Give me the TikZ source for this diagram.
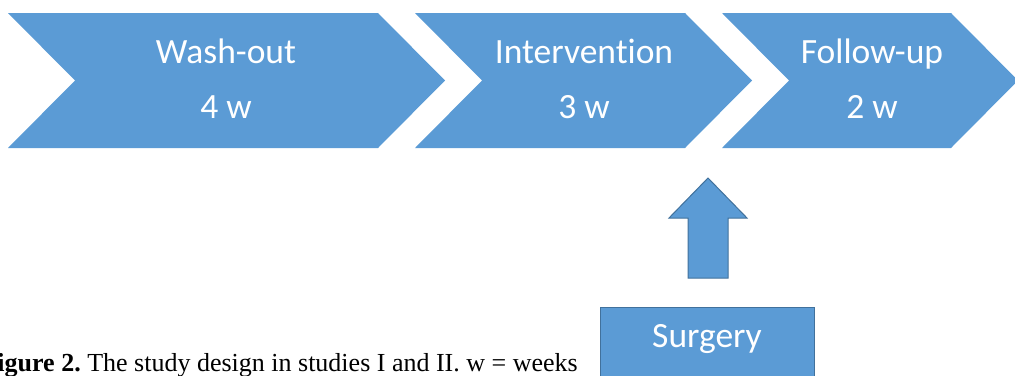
\documentclass[tikz,border=0pt]{standalone}
\usepackage{fontspec}
\setmainfont{Liberation Serif}
\newfontfamily\calib[Ligatures=NoCommon]{Carlito}
\definecolor{officeblue}{HTML}{5B9BD5}
\definecolor{officeedge}{HTML}{41719C}
\frenchspacing
\begin{document}
\begin{tikzpicture}[x=1pt,y=-1pt,
  chev/.style={fill=officeblue,draw=none},
  lab/.style={text=white,font=\calib\fontsize{35.5}{38}\selectfont,anchor=base,inner sep=0pt},
  outlined/.style={fill=officeblue,draw=officeedge,line width=1pt},
  captiontext/.style={font=\fontsize{26}{30}\selectfont,anchor=base east,inner sep=0pt}]
\useasboundingbox (0,0) rectangle (1015,375);
% chevrons
\fill[chev] (8,13) -- (378,13) -- (445,80.5) -- (378,148) -- (8,148) -- (75,80.5) -- cycle;
\fill[chev] (415,13) -- (685,13) -- (752,80.5) -- (685,148) -- (415,148) -- (482,80.5) -- cycle;
\fill[chev] (722,13) -- (951,13) -- (1018,80.5) -- (951,148) -- (722,148) -- (789,80.5) -- cycle;
\node[lab] (t1) at (226,63) {Wash-out};
\node[lab] (d1) at (226,118) {4 w};
\node[lab] (t2) at (584,63) {Intervention};
\node[lab] (d2) at (584,118) {3 w};
\node[lab] (t3) at (872,63) {Follow-up};
\node[lab] (d3) at (872,118) {2 w};
% up arrow
\draw[outlined,line join=miter] (708,178) -- (747,218) -- (728,218) -- (728,278) -- (688,278) -- (688,218) -- (669,218) -- cycle;
% surgery box
\draw[outlined] (600,307) rectangle (814,380);
\node[lab] (s) at (707,347) {Surgery};
% caption
\node[captiontext] (c) at (578,371) {\textbf{Figure 2.} The study design in studies I and II. w = weeks};
\end{tikzpicture}
\end{document}
